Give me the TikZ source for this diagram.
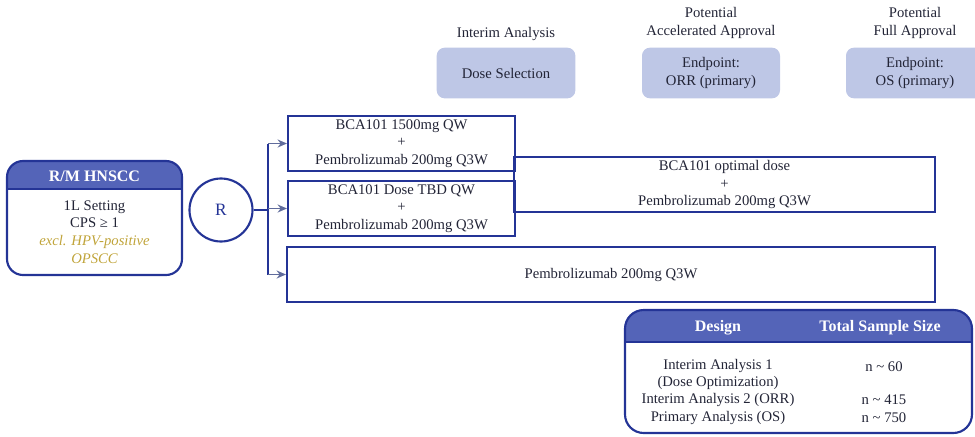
\documentclass[tikz,border=0pt]{standalone}
\usepackage{fontspec}
\setmainfont{Liberation Serif}
\usetikzlibrary{arrows.meta,positioning,calc}
\definecolor{trialnavy}{RGB}{36,52,150}
\definecolor{trialhead}{RGB}{84,100,184}
\definecolor{trialpale}{RGB}{190,199,230}
\definecolor{trialgold}{RGB}{192,164,58}
\definecolor{trialtext}{RGB}{34,36,54}
\definecolor{trialgrey}{RGB}{96,108,156}

\begin{document}
\begin{tikzpicture}[
    x=0.75pt, y=-0.75pt,
    every node/.style={font=\fontsize{11}{13.2}\selectfont, text=trialtext, align=center},
    arm/.style={rectangle, draw=trialnavy, line width=1.6pt, minimum width=170.25pt, minimum height=41.25pt, inner sep=0pt},
    milestone/.style={rectangle, rounded corners=6pt, fill=trialpale, minimum height=38pt, inner sep=0pt},
    heading/.style={font=\fontsize{12}{14}\selectfont\bfseries, text=white},
    link/.style={draw=trialnavy, line width=1.6pt},
    arrow/.style={draw=trialgrey, line width=1.2pt, -{Stealth[length=7pt,width=6pt]}}
]
\useasboundingbox (0,0) rectangle (975,436);

% Population
\begin{scope}
  \clip[rounded corners=12pt] (7,161) rectangle (182,275);
  \fill[trialhead] (7,161) rectangle (182,189);
\end{scope}
\draw[link, rounded corners=12pt] (7,161) rectangle (182,275);
\draw[trialnavy, line width=0.8pt] (7,189) -- (182,189);
\node[heading] (popname) at (94.5,176) {R/M HNSCC};
\node (popinfo) at (94.5,232) {1L Setting\\CPS ≥ 1\\{\color{trialgold}\itshape excl. HPV-positive}\\{\color{trialgold}\itshape OPSCC}};

% Randomisation
\node[circle, draw=trialnavy, line width=1.6pt, minimum size=47.25pt, inner sep=0pt, font=\fontsize{13}{15}\selectfont, text=trialnavy] (rnd) at (221,210) {R};

% Arms
\node[arm] (arm1) at (401.5,143.5) {BCA101 1500mg QW\\+\\Pembrolizumab 200mg Q3W};
\node[arm] (arm2) at (401.5,208.5) {BCA101 Dose TBD QW\\+\\Pembrolizumab 200mg Q3W};
\node[arm, minimum width=315.75pt] (optdose) at (724.5,184.5) {BCA101 optimal dose\\+\\Pembrolizumab 200mg Q3W};
\node[arm, minimum width=486pt] (ctrl) at (611,274.5) {Pembrolizumab 200mg Q3W};

% Connectors
\coordinate (split) at (268,210);
\draw[link] (rnd.east) -- (split);
\draw[link] (split |- arm1.west) -- (split |- ctrl.west);
\foreach \b in {arm1,arm2,ctrl}
  \draw[arrow] (split |- \b.west) -- (\b.west);

% Milestones
\node (ialabel) at (506,34) {Interim Analysis};
\node[milestone, minimum width=104pt] (dosesel) at (506,73) {Dose Selection};
\node (aalabel) at (711,23) {Potential\\Accelerated Approval};
\node[milestone, minimum width=103.5pt] (orrend) at (711,73) {Endpoint:\\ORR (primary)};
\node (falabel) at (915,23) {Potential\\Full Approval};
\node[milestone, minimum width=103.5pt] (osend) at (915,73) {Endpoint:\\OS (primary)};

% Sample size table
\begin{scope}
  \clip[rounded corners=14pt] (625,310) rectangle (972,433);
  \fill[trialhead] (625,310) rectangle (972,342);
\end{scope}
\draw[link, rounded corners=14pt] (625,310) rectangle (972,433);
\draw[trialnavy, line width=0.8pt] (625,342) -- (972,342);
\node[heading] (designhd) at (718,328) {Design};
\node[heading] (sizehd) at (880,328) {Total Sample Size};
\node (ia1) at (718,374.5) {Interim Analysis 1\\(Dose Optimization)};
\node (ia2) at (718,400) {Interim Analysis 2 (ORR)};
\node (pa) at (718,418) {Primary Analysis (OS)};
\node (n60) at (884,367) {n \textasciitilde{} 60};
\node (n415) at (884,400) {n \textasciitilde{} 415};
\node (n750) at (884,418) {n \textasciitilde{} 750};

\end{tikzpicture}
\end{document}
